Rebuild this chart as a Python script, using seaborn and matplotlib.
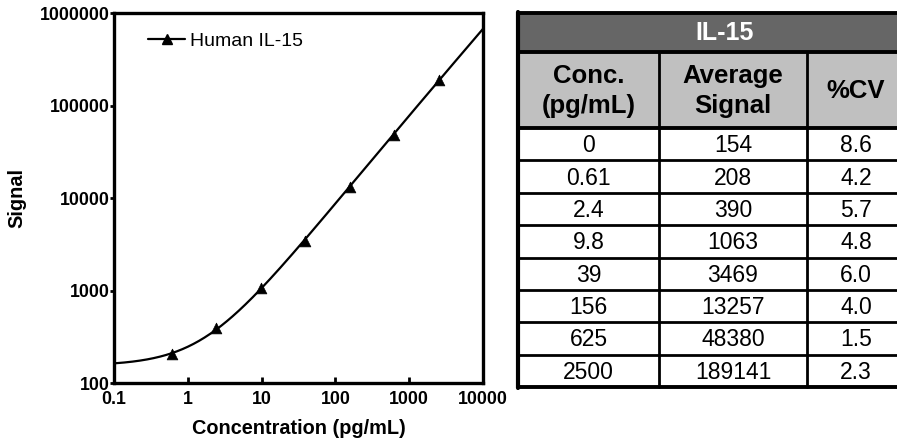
import numpy as np
import pandas as pd
import matplotlib
matplotlib.use("Agg")
import matplotlib.pyplot as plt
from matplotlib.lines import Line2D
from matplotlib.patches import Rectangle
from matplotlib.ticker import FixedLocator, NullLocator
import seaborn as sns

# data
conc = [0, 0.61, 2.4, 9.8, 39, 156, 625, 2500]
conc_labels = ["0", "0.61", "2.4", "9.8", "39", "156", "625", "2500"]
avg_signal = [154, 208, 390, 1063, 3469, 13257, 48380, 189141]
cv_labels = ["8.6", "4.2", "5.7", "4.8", "6.0", "4.0", "1.5", "2.3"]
table_title = "IL-15"
col_headers = ["Conc.\n(pg/mL)", "Average\nSignal", "%CV"]
series_name = "Human IL-15"
x_ticks = [0.1, 1, 10, 100, 1000, 10000]
x_tick_labels = ["0.1", "1", "10", "100", "1000", "10000"]
y_ticks = [100, 1000, 10000, 100000, 1000000]
y_tick_labels = ["100", "1000", "10000", "100000", "1000000"]

sns.set_theme(style="ticks")
plt.rcParams['font.family'] = ['Liberation Sans', 'DejaVu Sans']
plt.rcParams['text.color'] = 'black'
plt.rcParams['axes.labelcolor'] = 'black'

df = pd.DataFrame({"conc": conc, "signal": avg_signal})
pts = df[df.conc > 0]

# standard curve: zero-standard background + smooth fit in log space
bg = avg_signal[0]
coef = np.polyfit(np.log10(pts.conc), np.log10(pts.signal - bg), 2)
xs = np.logspace(-1, 4, 400)
fit = pd.DataFrame({"conc": xs, "signal": bg + 10 ** np.polyval(coef, np.log10(xs))})

fig = plt.figure(figsize=(8.97, 4.41), dpi=100)
ax = fig.add_axes([0.127, 0.1315, 0.4115, 0.839])
sns.lineplot(data=fit, x="conc", y="signal", ax=ax, color="black", lw=1.6, legend=False)
sns.scatterplot(data=pts, x="conc", y="signal", ax=ax, marker="^", color="black",
                s=60, edgecolor="black", linewidth=0.5, zorder=3, legend=False)
ax.set_xscale("log")
ax.set_yscale("log")
ax.set_xlim(0.1, 10000)
ax.set_ylim(100, 1000000)
ax.xaxis.set_major_locator(FixedLocator(x_ticks))
ax.yaxis.set_major_locator(FixedLocator(y_ticks))
ax.xaxis.set_minor_locator(NullLocator())
ax.yaxis.set_minor_locator(NullLocator())
ax.set_xticklabels(x_tick_labels, fontsize=12.8, fontweight="bold")
ax.set_yticklabels(y_tick_labels, fontsize=12.8, fontweight="bold")
ax.tick_params(axis="x", direction="in", length=4, width=2, pad=6, colors="black")
ax.tick_params(axis="y", direction="out", length=3, width=2, pad=0, colors="black")
for s in ax.spines.values():
    s.set_linewidth(2.4)
    s.set_color("black")
ax.set_xlabel("Concentration (pg/mL)", fontsize=14.3, fontweight="bold", labelpad=8)
ax.set_ylabel("Signal", fontsize=14.3, fontweight="bold", labelpad=10)

handle = Line2D([], [], color="black", lw=1.6, marker="^", markersize=7.5)
ax.legend([handle], [series_name], loc="upper left", bbox_to_anchor=(0.045, 0.995),
          frameon=False, fontsize=14, handlelength=1.9, handletextpad=0.25,
          labelcolor="black")

# table drawn in pixel space
tax = fig.add_axes([0, 0, 1, 1])
tax.set_xlim(0, 897)
tax.set_ylim(441, 0)
tax.axis("off")

col_edges = [518, 659, 807, 905]
top, title_bottom, head_bottom, bottom = 13, 52, 128, 387
n = len(conc_labels)
row_h = (bottom - head_bottom) / n
row_edges = [head_bottom + i * row_h for i in range(n + 1)]

tax.add_patch(Rectangle((col_edges[0], top), 420, title_bottom - top, fc="#666666", ec="none"))
tax.add_patch(Rectangle((col_edges[0], title_bottom), 420, head_bottom - title_bottom,
                        fc="#c0c0c0", ec="none"))
for y in [top, title_bottom] + row_edges:
    lw = 2.8 if y in (top, title_bottom, head_bottom, bottom) else 2.0
    tax.plot([col_edges[0], 940], [y, y], color="black", lw=lw, solid_capstyle="butt")
tax.plot([col_edges[0], col_edges[0]], [top - 1, bottom + 1], color="black", lw=3.0)
for x in col_edges[1:3]:
    tax.plot([x, x], [title_bottom, bottom], color="black", lw=2.0)

tax.text(725, 33, table_title, ha="center", va="center", color="white",
         fontsize=18, fontweight="bold")
col_centers = [(col_edges[i] + col_edges[i + 1]) / 2 for i in range(3)]
for cx, h in zip(col_centers, col_headers):
    tax.text(cx, 91, h, ha="center", va="center", fontsize=18.5, fontweight="bold",
             linespacing=1.3, color="black")
for i, row in enumerate(zip(conc_labels, [str(v) for v in avg_signal], cv_labels)):
    cy = (row_edges[i] + row_edges[i + 1]) / 2 + 1.5
    for cx, val in zip(col_centers, row):
        tax.text(cx, cy, val, ha="center", va="center", fontsize=16.5, color="black")

fig.savefig("out.png", dpi=100)
